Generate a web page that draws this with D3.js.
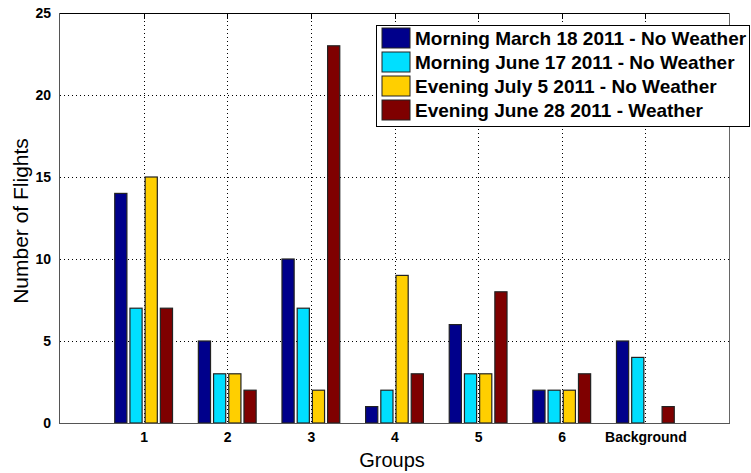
<!DOCTYPE html>
<html><head><meta charset="utf-8">
<script src="https://cdn.jsdelivr.net/npm/d3@7"></script>
<style>body{margin:0;background:#fff}svg{display:block}text{font-family:"Liberation Sans",Arial,sans-serif}</style>
</head><body>
<script>
const categories = ["1","2","3","4","5","6","Background"];
const seriesNames = [
  "Morning March 18 2011 - No Weather",
  "Morning June 17 2011 - No Weather",
  "Evening July 5 2011 - No Weather",
  "Evening June 28 2011 - Weather"
];
const morningMar18 = [14, 5, 10, 1, 6, 2, 5];
const morningJun17 = [7, 3, 7, 2, 3, 2, 4];
const eveningJul5  = [15, 3, 2, 9, 3, 2, 0];
const eveningJun28 = [7, 2, 23, 3, 8, 3, 1];
const seriesValues = [morningMar18, morningJun17, eveningJul5, eveningJun28];
const colors = ["#00008b", "#00dfff", "#ffcf00", "#7f0000"];
const yTicks = [0, 5, 10, 15, 20, 25];

const W = 751, H = 473;
const L = 60, R = 729, T = 13, B = 423;
const svg = d3.select("body").append("svg").attr("width", W).attr("height", H);

const x = d3.scaleLinear().domain([0, 8]).range([L, R]);
const y = d3.scaleLinear().domain([0, 25]).range([B, T]);

// grid
const g = svg.append("g");
g.selectAll(".hg").data(yTicks.filter(v => v > 0 && v < 25)).join("line")
  .attr("x1", L).attr("x2", R).attr("y1", d => y(d) + 0.5).attr("y2", d => y(d) + 0.5)
  .attr("stroke", "#000").attr("stroke-width", 1).attr("stroke-dasharray", "1,3");
g.selectAll(".vg").data(categories).join("line")
  .attr("x1", (d, i) => Math.round(x(i + 1)) + 0.5).attr("x2", (d, i) => Math.round(x(i + 1)) + 0.5)
  .attr("y1", T).attr("y2", B)
  .attr("stroke", "#000").attr("stroke-width", 1).attr("stroke-dasharray", "1,3");

// bars
const nS = seriesValues.length;
const groupWidth = Math.min(0.8, nS / (nS + 1.5));
const barW = groupWidth / nS * 0.8;
seriesValues.forEach((vals, s) => {
  const off = -groupWidth / 2 + groupWidth / (2 * nS) + s * groupWidth / nS;
  svg.append("g").selectAll("rect").data(vals).join("rect")
    .filter(d => d > 0)
    .attr("x", (d, i) => x(i + 1 + off - barW / 2))
    .attr("width", x(barW) - x(0))
    .attr("y", d => y(d))
    .attr("height", d => y(0) - y(d))
    .attr("fill", colors[s])
    .attr("stroke", "#222").attr("stroke-width", 1.2);
});

// axes frame
svg.append("line").attr("x1", L).attr("x2", R).attr("y1", T + 0.5).attr("y2", T + 0.5).attr("stroke", "#000");
svg.append("line").attr("x1", R + 0.5).attr("x2", R + 0.5).attr("y1", T).attr("y2", B).attr("stroke", "#666");
svg.append("line").attr("x1", L - 0.5).attr("x2", L - 0.5).attr("y1", T).attr("y2", B + 1).attr("stroke", "#555");
svg.append("line").attr("x1", L).attr("x2", R + 1).attr("y1", B + 0.5).attr("y2", B + 0.5).attr("stroke", "#555");

// top ticks
svg.append("g").selectAll("line").data(categories).join("line")
  .attr("x1", (d, i) => Math.round(x(i + 1)) + 0.5).attr("x2", (d, i) => Math.round(x(i + 1)) + 0.5)
  .attr("y1", T).attr("y2", T + 6).attr("stroke", "#000");

// y tick labels
const yAxis = d3.axisLeft(y).tickValues(yTicks).tickSize(0).tickPadding(9);
const ya = svg.append("g").attr("transform", `translate(${L},0)`).call(yAxis);
ya.select(".domain").remove();
ya.selectAll("text").attr("font-size", 14).attr("font-weight", "bold").attr("fill", "#000")
  .style("font-family", "Liberation Sans, Arial, sans-serif");

// x tick labels
const xa = svg.append("g").attr("transform", `translate(0,${B})`)
  .call(d3.axisBottom(x).tickValues(d3.range(1, 8)).tickFormat(d => categories[d - 1]).tickSize(0).tickPadding(9));
xa.select(".domain").remove();
xa.selectAll("text").attr("font-size", 14).attr("font-weight", "bold").attr("fill", "#000")
  .style("font-family", "Liberation Sans, Arial, sans-serif");

// axis titles
svg.append("text").attr("x", 392).attr("y", 467).attr("text-anchor", "middle")
  .attr("font-size", 20).text("Groups");
svg.append("text").attr("transform", `translate(28,221) rotate(-90)`).attr("text-anchor", "middle")
  .attr("font-size", 21).text("Number of Flights");

// legend
const lg = svg.append("g");
lg.append("rect").attr("x", 376.5).attr("y", 25.5).attr("width", 373).attr("height", 101)
  .attr("fill", "#fff").attr("stroke", "#000");
seriesNames.forEach((name, i) => {
  const yy = 28 + i * 24;
  lg.append("rect").attr("x", 382).attr("y", yy).attr("width", 28).attr("height", 20)
    .attr("fill", colors[i]).attr("stroke", "#222");
  lg.append("text").attr("x", 415).attr("y", yy + 16.5).attr("font-size", 19).attr("font-weight", "bold")
    .text(name);
});
</script>
</body></html>
